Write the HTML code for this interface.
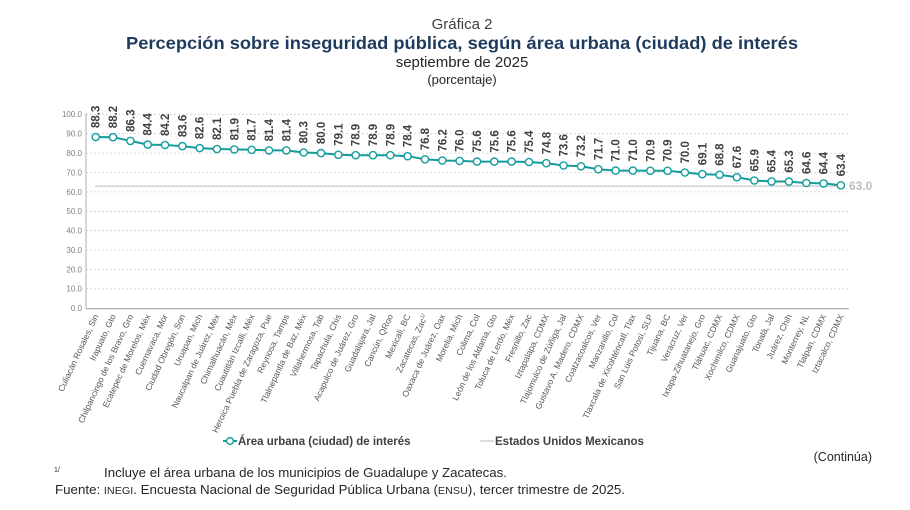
<!DOCTYPE html>
<html><head><meta charset="utf-8"><style>
html,body{margin:0;padding:0;background:#fff}
svg{display:block}
text{font-family:"Liberation Sans",sans-serif}
.yl{font-size:8px;fill:#7f7f7f;text-anchor:end}
.dl{font-size:11.5px;font-weight:bold;fill:#404040}
.xl{font-size:8.6px;fill:#595959;text-anchor:end}
</style></head><body>
<svg width="910" height="510" viewBox="0 0 910 510" xmlns="http://www.w3.org/2000/svg">
<text x="462" y="29" text-anchor="middle" font-size="15" fill="#404040">Gráfica 2</text>
<text x="462" y="49" text-anchor="middle" font-size="17.5" font-weight="bold" fill="#1f3b5c" textLength="672" lengthAdjust="spacingAndGlyphs">Percepción sobre inseguridad pública, según área urbana (ciudad) de interés</text>
<text x="462" y="67" text-anchor="middle" font-size="15" fill="#262626">septiembre de 2025</text>
<text x="462" y="84" text-anchor="middle" font-size="13" fill="#262626">(porcentaje)</text>

<g stroke="#d0d0d0" stroke-width="0.8" stroke-dasharray="2,2">
<line x1="86" x2="849" y1="114.3" y2="114.3"/><line x1="86" x2="849" y1="133.7" y2="133.7"/><line x1="86" x2="849" y1="153.1" y2="153.1"/><line x1="86" x2="849" y1="172.5" y2="172.5"/><line x1="86" x2="849" y1="191.9" y2="191.9"/><line x1="86" x2="849" y1="211.3" y2="211.3"/><line x1="86" x2="849" y1="230.7" y2="230.7"/><line x1="86" x2="849" y1="250.1" y2="250.1"/><line x1="86" x2="849" y1="269.5" y2="269.5"/><line x1="86" x2="849" y1="288.9" y2="288.9"/>
</g>
<g class="yl">
<text x="82" y="117">100.0</text><text x="82" y="136.5">90.0</text><text x="82" y="156">80.0</text><text x="82" y="175.5">70.0</text><text x="82" y="195">60.0</text><text x="82" y="214">50.0</text><text x="82" y="233.5">40.0</text><text x="82" y="253">30.0</text><text x="82" y="272.5">20.0</text><text x="82" y="291.5">10.0</text><text x="82" y="311">0.0</text>
</g>
<line x1="86" y1="113" x2="86" y2="309" stroke="#a8b0bc" stroke-width="1"/>
<line x1="86" y1="308.6" x2="849" y2="308.6" stroke="#a8b0bc" stroke-width="1.2"/>

<line x1="95" y1="186.1" x2="842" y2="186.1" stroke="#c8c8c8" stroke-width="1.3"/>
<text x="849" y="190" font-size="12" font-weight="bold" fill="#bfbfbf">63.0</text>

<polyline fill="none" stroke="#149c9c" stroke-width="2" points="95.7,137 113,137.2 130.4,140.9 147.7,144.6 165,145 182.4,146.1 199.7,148.1 217,149 234.3,149.4 251.7,149.8 269,150.4 286.3,150.4 303.7,152.5 321,153.1 338.3,154.8 355.7,155.2 373,155.2 390.3,155.2 407.6,156.2 425,159.3 442.3,160.5 459.6,160.9 477,161.6 494.3,161.6 511.6,161.6 529,162 546.3,163.2 563.6,165.5 581,166.3 598.3,169.2 615.6,170.6 632.9,170.6 650.3,170.8 667.6,170.8 684.9,172.5 702.3,174.2 719.6,174.8 736.9,177.2 754.3,180.5 771.6,181.4 788.9,181.6 806.3,183 823.6,183.4 840.9,185.3"/>
<g fill="#fff" stroke="#149c9c" stroke-width="1.4">
<circle cx="95.7" cy="137" r="3.6"/><circle cx="113" cy="137.2" r="3.6"/><circle cx="130.4" cy="140.9" r="3.6"/><circle cx="147.7" cy="144.6" r="3.6"/><circle cx="165" cy="145" r="3.6"/><circle cx="182.4" cy="146.1" r="3.6"/><circle cx="199.7" cy="148.1" r="3.6"/><circle cx="217" cy="149" r="3.6"/><circle cx="234.3" cy="149.4" r="3.6"/><circle cx="251.7" cy="149.8" r="3.6"/><circle cx="269" cy="150.4" r="3.6"/><circle cx="286.3" cy="150.4" r="3.6"/><circle cx="303.7" cy="152.5" r="3.6"/><circle cx="321" cy="153.1" r="3.6"/><circle cx="338.3" cy="154.8" r="3.6"/><circle cx="355.7" cy="155.2" r="3.6"/><circle cx="373" cy="155.2" r="3.6"/><circle cx="390.3" cy="155.2" r="3.6"/><circle cx="407.6" cy="156.2" r="3.6"/><circle cx="425" cy="159.3" r="3.6"/><circle cx="442.3" cy="160.5" r="3.6"/><circle cx="459.6" cy="160.9" r="3.6"/><circle cx="477" cy="161.6" r="3.6"/><circle cx="494.3" cy="161.6" r="3.6"/><circle cx="511.6" cy="161.6" r="3.6"/><circle cx="529" cy="162" r="3.6"/><circle cx="546.3" cy="163.2" r="3.6"/><circle cx="563.6" cy="165.5" r="3.6"/><circle cx="581" cy="166.3" r="3.6"/><circle cx="598.3" cy="169.2" r="3.6"/><circle cx="615.6" cy="170.6" r="3.6"/><circle cx="632.9" cy="170.6" r="3.6"/><circle cx="650.3" cy="170.8" r="3.6"/><circle cx="667.6" cy="170.8" r="3.6"/><circle cx="684.9" cy="172.5" r="3.6"/><circle cx="702.3" cy="174.2" r="3.6"/><circle cx="719.6" cy="174.8" r="3.6"/><circle cx="736.9" cy="177.2" r="3.6"/><circle cx="754.3" cy="180.5" r="3.6"/><circle cx="771.6" cy="181.4" r="3.6"/><circle cx="788.9" cy="181.6" r="3.6"/><circle cx="806.3" cy="183" r="3.6"/><circle cx="823.6" cy="183.4" r="3.6"/><circle cx="840.9" cy="185.3" r="3.6"/>
</g>

<g class="dl">
<text transform="translate(99.7,128) rotate(-90)">88.3</text>
<text transform="translate(117,128.2) rotate(-90)">88.2</text>
<text transform="translate(134.4,131.9) rotate(-90)">86.3</text>
<text transform="translate(151.7,135.6) rotate(-90)">84.4</text>
<text transform="translate(169,136) rotate(-90)">84.2</text>
<text transform="translate(186.4,137.1) rotate(-90)">83.6</text>
<text transform="translate(203.7,139.1) rotate(-90)">82.6</text>
<text transform="translate(221,140) rotate(-90)">82.1</text>
<text transform="translate(238.3,140.4) rotate(-90)">81.9</text>
<text transform="translate(255.7,140.8) rotate(-90)">81.7</text>
<text transform="translate(273,141.4) rotate(-90)">81.4</text>
<text transform="translate(290.3,141.4) rotate(-90)">81.4</text>
<text transform="translate(307.7,143.5) rotate(-90)">80.3</text>
<text transform="translate(325,144.1) rotate(-90)">80.0</text>
<text transform="translate(342.3,145.8) rotate(-90)">79.1</text>
<text transform="translate(359.7,146.2) rotate(-90)">78.9</text>
<text transform="translate(377,146.2) rotate(-90)">78.9</text>
<text transform="translate(394.3,146.2) rotate(-90)">78.9</text>
<text transform="translate(411.6,147.2) rotate(-90)">78.4</text>
<text transform="translate(429,150.3) rotate(-90)">76.8</text>
<text transform="translate(446.3,151.5) rotate(-90)">76.2</text>
<text transform="translate(463.6,151.9) rotate(-90)">76.0</text>
<text transform="translate(481,152.6) rotate(-90)">75.6</text>
<text transform="translate(498.3,152.6) rotate(-90)">75.6</text>
<text transform="translate(515.6,152.6) rotate(-90)">75.6</text>
<text transform="translate(533,153) rotate(-90)">75.4</text>
<text transform="translate(550.3,154.2) rotate(-90)">74.8</text>
<text transform="translate(567.6,156.5) rotate(-90)">73.6</text>
<text transform="translate(585,157.3) rotate(-90)">73.2</text>
<text transform="translate(602.3,160.2) rotate(-90)">71.7</text>
<text transform="translate(619.6,161.6) rotate(-90)">71.0</text>
<text transform="translate(636.9,161.6) rotate(-90)">71.0</text>
<text transform="translate(654.3,161.8) rotate(-90)">70.9</text>
<text transform="translate(671.6,161.8) rotate(-90)">70.9</text>
<text transform="translate(688.9,163.5) rotate(-90)">70.0</text>
<text transform="translate(706.3,165.2) rotate(-90)">69.1</text>
<text transform="translate(723.6,165.8) rotate(-90)">68.8</text>
<text transform="translate(740.9,168.2) rotate(-90)">67.6</text>
<text transform="translate(758.3,171.5) rotate(-90)">65.9</text>
<text transform="translate(775.6,172.4) rotate(-90)">65.4</text>
<text transform="translate(792.9,172.6) rotate(-90)">65.3</text>
<text transform="translate(810.3,174) rotate(-90)">64.6</text>
<text transform="translate(827.6,174.4) rotate(-90)">64.4</text>
<text transform="translate(844.9,176.3) rotate(-90)">63.4</text>
</g>

<g class="xl">
<text transform="translate(98.7,316) rotate(-65)">Culiacán Rosales, Sin</text>
<text transform="translate(116,316) rotate(-65)">Irapuato, Gto</text>
<text transform="translate(133.4,316) rotate(-65)">Chilpancingo de los Bravo, Gro</text>
<text transform="translate(150.7,316) rotate(-65)">Ecatepec de Morelos, Méx</text>
<text transform="translate(168,316) rotate(-65)">Cuernavaca, Mor</text>
<text transform="translate(185.4,316) rotate(-65)">Ciudad Obregón, Son</text>
<text transform="translate(202.7,316) rotate(-65)">Uruapan, Mich</text>
<text transform="translate(220,316) rotate(-65)">Naucalpan de Juárez, Méx</text>
<text transform="translate(237.3,316) rotate(-65)">Chimalhuacán, Méx</text>
<text transform="translate(254.7,316) rotate(-65)">Cuautitlán Izcalli, Méx</text>
<text transform="translate(272,316) rotate(-65)">Heroica Puebla de Zaragoza, Pue</text>
<text transform="translate(289.3,316) rotate(-65)">Reynosa, Tamps</text>
<text transform="translate(306.7,316) rotate(-65)">Tlalnepantla de Baz, Méx</text>
<text transform="translate(324,316) rotate(-65)">Villahermosa, Tab</text>
<text transform="translate(341.3,316) rotate(-65)">Tapachula, Chis</text>
<text transform="translate(358.7,316) rotate(-65)">Acapulco de Juárez, Gro</text>
<text transform="translate(376,316) rotate(-65)">Guadalajara, Jal</text>
<text transform="translate(393.3,316) rotate(-65)">Cancún, QRoo</text>
<text transform="translate(410.6,316) rotate(-65)">Mexicali, BC</text>
<text transform="translate(428,316) rotate(-65)">Zacatecas, Zac<tspan font-size="5.5" dy="-3">1/</tspan></text>
<text transform="translate(445.3,316) rotate(-65)">Oaxaca de Juárez, Oax</text>
<text transform="translate(462.6,316) rotate(-65)">Morelia, Mich</text>
<text transform="translate(480,316) rotate(-65)">Colima, Col</text>
<text transform="translate(497.3,316) rotate(-65)">León de los Aldama, Gto</text>
<text transform="translate(514.6,316) rotate(-65)">Toluca de Lerdo, Méx</text>
<text transform="translate(532,316) rotate(-65)">Fresnillo, Zac</text>
<text transform="translate(549.3,316) rotate(-65)">Iztapalapa, CDMX</text>
<text transform="translate(566.6,316) rotate(-65)">Tlajomulco de Zúñiga, Jal</text>
<text transform="translate(584,316) rotate(-65)">Gustavo A. Madero, CDMX</text>
<text transform="translate(601.3,316) rotate(-65)">Coatzacoalcos, Ver</text>
<text transform="translate(618.6,316) rotate(-65)">Manzanillo, Col</text>
<text transform="translate(635.9,316) rotate(-65)">Tlaxcala de Xicohténcatl, Tlax</text>
<text transform="translate(653.3,316) rotate(-65)">San Luis Potosí, SLP</text>
<text transform="translate(670.6,316) rotate(-65)">Tijuana, BC</text>
<text transform="translate(687.9,316) rotate(-65)">Veracruz, Ver</text>
<text transform="translate(705.3,316) rotate(-65)">Ixtapa-Zihuatanejo, Gro</text>
<text transform="translate(722.6,316) rotate(-65)">Tláhuac, CDMX</text>
<text transform="translate(739.9,316) rotate(-65)">Xochimilco, CDMX</text>
<text transform="translate(757.3,316) rotate(-65)">Guanajuato, Gto</text>
<text transform="translate(774.6,316) rotate(-65)">Tonalá, Jal</text>
<text transform="translate(791.9,316) rotate(-65)">Juárez, Chih</text>
<text transform="translate(809.3,316) rotate(-65)">Monterrey, NL</text>
<text transform="translate(826.6,316) rotate(-65)">Tlalpan, CDMX</text>
<text transform="translate(843.9,316) rotate(-65)">Iztacalco, CDMX</text>
</g>

<line x1="223" y1="441" x2="237" y2="441" stroke="#149c9c" stroke-width="2"/>
<circle cx="230" cy="441" r="3.4" fill="#fff" stroke="#149c9c" stroke-width="1.4"/>
<text x="238" y="445" font-size="11.5" font-weight="bold" fill="#404040">Área urbana (ciudad) de interés</text>
<line x1="480" y1="441" x2="494" y2="441" stroke="#c8c8c8" stroke-width="1.3"/>
<text x="495" y="445" font-size="11.5" font-weight="bold" fill="#404040">Estados Unidos Mexicanos</text>

<text x="872" y="461" text-anchor="end" font-size="12.5" fill="#262626">(Continúa)</text>
<text x="54" y="472" font-size="7" fill="#262626">1/</text>
<text x="104" y="477" font-size="13" fill="#262626" textLength="403" lengthAdjust="spacingAndGlyphs">Incluye el área urbana de los municipios de Guadalupe y Zacatecas.</text>
<text x="55" y="494" font-size="13" fill="#262626" textLength="570" lengthAdjust="spacingAndGlyphs">Fuente: <tspan font-size="10.5">INEGI</tspan>. Encuesta Nacional de Seguridad Pública Urbana (<tspan font-size="10.5">ENSU</tspan>), tercer trimestre de 2025.</text>
</svg>
</body></html>
